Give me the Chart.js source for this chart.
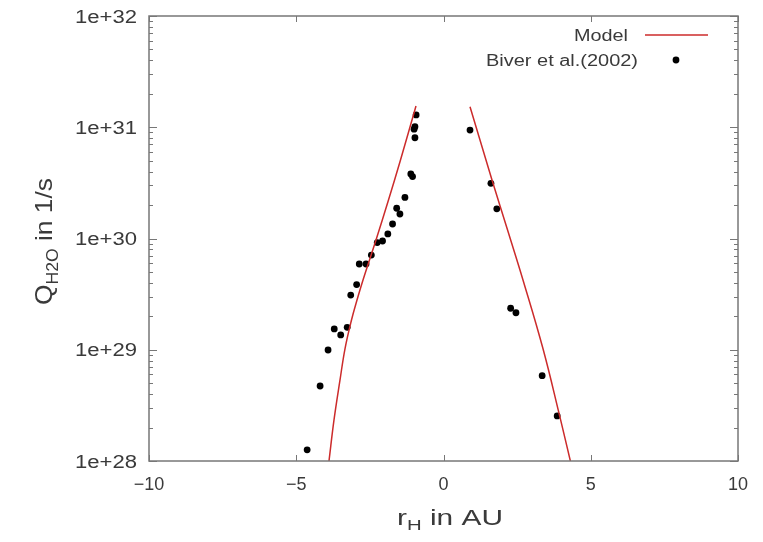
<!DOCTYPE html>
<html><head><meta charset="utf-8">
<script src="https://cdn.jsdelivr.net/npm/chart.js@4/dist/chart.umd.min.js"></script>
<style>html,body{margin:0;padding:0;background:#fff;}#wrap{width:763px;height:542px;}</style>
</head><body><div id="wrap"><canvas id="c" width="763" height="542"></canvas></div>
<script>
// Observations (Biver et al. 2002): heliocentric distance r_H (AU, negative = pre-perihelion) and Q_H2O (1/s)
const obsR = [-0.93,-0.97,-1.00,-0.97,-1.11,-1.05,-1.31,-1.59,-1.48,-1.73,-1.89,-2.07,-2.25,-2.45,-2.86,-2.63,-2.95,-3.15,-3.71,-3.49,-3.27,-3.92,-4.19,-4.63,
              0.90,1.61,1.81,2.28,2.46,3.35,3.86];
const obsQ = [1.29e31,1.01e31,9.6e30,8.05e30,3.8e30,3.6e30,2.34e30,1.87e30,1.66e30,1.35e30,1.10e30,9.5e29,9.2e29,7.1e29,5.9e29,5.9e29,3.85e29,3.1e29,1.54e29,1.36e29,1.59e29,9.95e28,4.72e28,1.26e28,
              9.44e30,3.13e30,1.85e30,2.36e29,2.15e29,5.85e28,2.54e28];
// Model curves
const modelLeftR  = [-3.888,-3.718,-3.514,-3.345,-3.124,-2.937,-2.733,-2.292,-1.868,-1.460,-0.934];
const modelLeftQ  = [1.0e28,2.34e28,5.35e28,1.02e29,1.85e29,2.80e29,4.24e29,9.7e29,2.22e30,5.08e30,1.55e31];
const modelRightR = [0.900,1.647,2.207,2.699,3.379,3.922,4.312];
const modelRightQ = [1.53e31,3.36e30,1.12e30,4.24e29,1.02e29,2.69e28,9.9e27];
// Axes
const xTicks = [-10,-5,0,5,10];
const xTickLabels = ['\u221210','\u22125','0','5','10'];
const yTicks = [1e28,1e29,1e30,1e31,1e32];
const yTickLabels = ['1e+28','1e+29','1e+30','1e+31','1e+32'];

const FONT = '"Liberation Sans", Arial, sans-serif';
const TEXT = '#3a3a3a';
const FRAME = '#777777';

function pts(xs, ys){ return xs.map((x,i)=>({x:x, y:ys[i]})); }

function drawParts(ctx, parts, x, y, align, target, rot){
  let w = 0;
  parts.forEach(p=>{ ctx.font = p.size+'px '+FONT; p.w = ctx.measureText(p.t).width; w += p.w; });
  const sx = target ? target / w : 1;
  ctx.save();
  ctx.translate(x, y);
  if (rot) ctx.rotate(rot);
  ctx.scale(sx, 1);
  let cx = align === 'center' ? -w/2 : (align === 'right' ? -w : 0);
  ctx.fillStyle = TEXT;
  ctx.textBaseline = 'alphabetic';
  ctx.textAlign = 'left';
  parts.forEach(p=>{ ctx.font = p.size+'px '+FONT; ctx.fillText(p.t, cx, p.dy||0); cx += p.w; });
  ctx.restore();
}

const decor = {
  id: 'decor',
  afterDraw(chart){
    const ctx = chart.ctx, a = chart.chartArea;
    const xs = chart.scales.x, ys = chart.scales.y;
    ctx.save();
    ctx.strokeStyle = FRAME; ctx.lineWidth = 1.5;
    ctx.strokeRect(a.left, a.top, a.right - a.left, a.bottom - a.top);
    ctx.lineWidth = 1;
    ctx.beginPath();
    yTicks.forEach(v=>{
      const py = Math.round(ys.getPixelForValue(v)) + 0.5;
      ctx.moveTo(a.left, py); ctx.lineTo(a.left + 8, py);
      ctx.moveTo(a.right, py); ctx.lineTo(a.right - 8, py);
    });
    for (let d = 28; d < 32; d++){
      for (let m = 2; m <= 9; m++){
        const py = Math.round(ys.getPixelForValue(m * Math.pow(10, d))) + 0.5;
        ctx.moveTo(a.left, py); ctx.lineTo(a.left + 4, py);
        ctx.moveTo(a.right, py); ctx.lineTo(a.right - 4, py);
      }
    }
    xTicks.forEach(v=>{
      const px = Math.round(xs.getPixelForValue(v)) + 0.5;
      ctx.moveTo(px, a.bottom); ctx.lineTo(px, a.bottom - 6);
      ctx.moveTo(px, a.top); ctx.lineTo(px, a.top + 6);
    });
    ctx.stroke();
    ctx.restore();

    yTicks.forEach((v,i)=>{
      drawParts(ctx, [{t:yTickLabels[i], size:18}], a.left - 12, ys.getPixelForValue(v) + 6.5, 'right', 62);
    });
    xTicks.forEach((v,i)=>{
      drawParts(ctx, [{t:xTickLabels[i], size:18}], xs.getPixelForValue(v), 489.5, 'center', 0);
    });
    drawParts(ctx, [{t:'r', size:22},{t:'H', size:15, dy:5},{t:' in AU', size:22}], 450, 525, 'center', 106);
    drawParts(ctx, [{t:'Q', size:24},{t:'H2O', size:16, dy:6},{t:' in 1/s', size:24}], 52, 241.5, 'center', 127, -Math.PI/2);

    const ds = chart.data.datasets;
    drawParts(ctx, [{t:ds[0].label, size:16}], 628, 41, 'right', 54);
    ctx.save();
    ctx.strokeStyle = ds[0].borderColor; ctx.lineWidth = 1.5;
    ctx.beginPath(); ctx.moveTo(645, 35); ctx.lineTo(708, 35); ctx.stroke();
    ctx.restore();
    drawParts(ctx, [{t:ds[2].label, size:16}], 638, 66, 'right', 152);
    ctx.save();
    ctx.fillStyle = '#000';
    ctx.beginPath(); ctx.arc(676, 60, 3.4, 0, Math.PI*2); ctx.fill();
    ctx.restore();
  }
};

new Chart(document.getElementById('c'), {
  type: 'scatter',
  data: {
    datasets: [
      {label:'Model', data: pts(modelLeftR, modelLeftQ), showLine:true, borderColor:'#cc2b2b', borderWidth:1.5,
       pointRadius:0, tension:0.4, fill:false},
      {label:'Model', data: pts(modelRightR, modelRightQ), showLine:true, borderColor:'#cc2b2b', borderWidth:1.5,
       pointRadius:0, tension:0.4, fill:false},
      {label:'Biver et al.(2002)', data: pts(obsR, obsQ), showLine:false, pointRadius:3.4,
       backgroundColor:'#000', borderWidth:0, pointHoverRadius:3.4}
    ]
  },
  options: {
    responsive:false, animation:false, devicePixelRatio:1,
    layout:{padding:{left:0, top:16, right:25, bottom:0}},
    plugins:{legend:{display:false}, tooltip:{enabled:false}},
    scales:{
      x:{type:'linear', min:-10, max:10,
         afterBuildTicks: s => { s.ticks = xTicks.map(v=>({value:v})); },
         afterFit: s => { s.height = 81; },
         ticks:{display:false}, grid:{display:false}, border:{display:false}},
      y:{type:'logarithmic', min:1e28, max:1e32,
         afterBuildTicks: s => { s.ticks = yTicks.map(v=>({value:v})); },
         afterFit: s => { s.width = 149; },
         ticks:{display:false}, grid:{display:false}, border:{display:false}}
    }
  },
  plugins:[decor]
});
</script></body></html>
